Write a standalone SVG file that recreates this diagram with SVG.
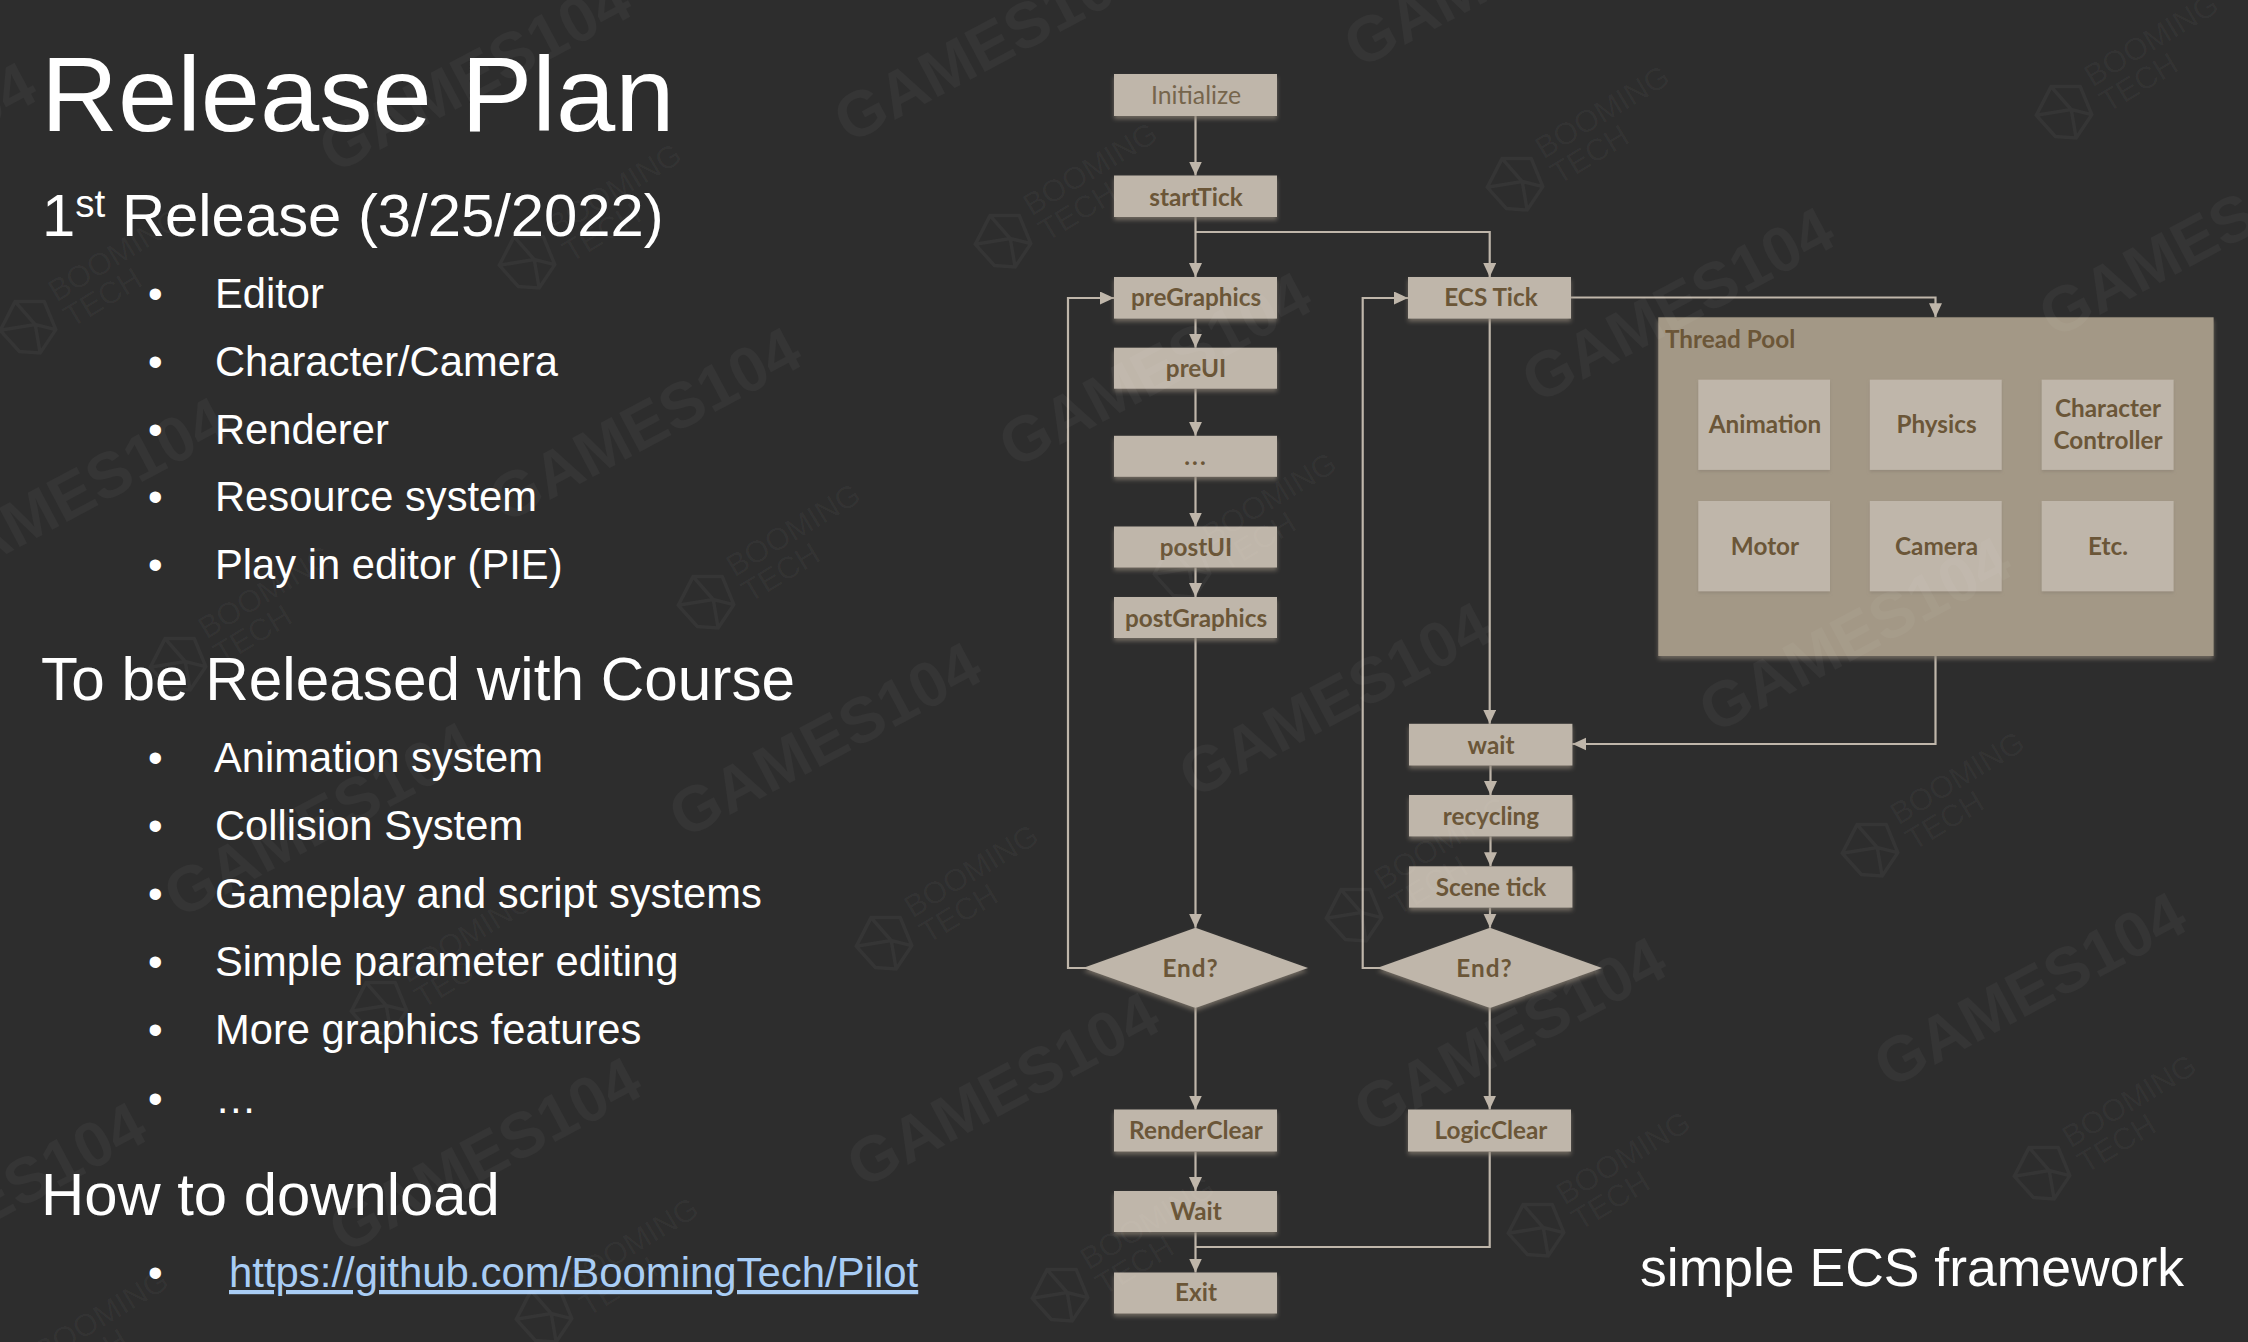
<svg xmlns="http://www.w3.org/2000/svg" width="2248" height="1342" viewBox="0 0 2248 1342">
<style>
text{font-kerning:none}
.title{font:106.5px "Liberation Sans",Arial,sans-serif;fill:#fff}
.h{font:59.8px "Liberation Sans",Arial,sans-serif;fill:#fff}
.b{font:41.7px "Liberation Sans",Arial,sans-serif;fill:#fff}
.link{font:41.9px "Liberation Sans",Arial,sans-serif;fill:#a9cdf5;text-decoration:underline}
.cap{font:53.5px "Liberation Sans",Arial,sans-serif;fill:#fff}
.n{fill:#bfb6aa;filter:url(#sh)}
.pool{fill:#a39886;filter:url(#sh)}
.in{fill:#bfb6aa;filter:url(#sh2)}
.t{font:bold 24.3px Lato,"Noto Sans",sans-serif;fill:#6b5638;text-anchor:middle}
.tl{font:24.8px Lato,"Noto Sans",sans-serif;fill:#76654c;text-anchor:middle}
.tp{font:bold 24.3px Lato,"Noto Sans",sans-serif;fill:#6b5638}
.c{fill:none;stroke:#bfb6aa;stroke-width:2.2}
.a{marker-end:url(#ah)}
.g1{font:bold 64px "Liberation Sans",Arial,sans-serif;fill:#fff;fill-opacity:.04;text-anchor:middle}
.g2{font:31px "Liberation Sans",Arial,sans-serif;fill:#fff;fill-opacity:.04}
.lg{fill:none;stroke:#fff;stroke-opacity:.04;stroke-width:3.5}
</style>
<defs>
<marker id="ah" markerUnits="userSpaceOnUse" markerWidth="15" markerHeight="14" refX="14" refY="6.5" orient="auto"><path d="M0 0L14 6.5L0 13z" fill="#bfb6aa"/></marker>
<filter id="sh" x="-10%" y="-20%" width="120%" height="150%"><feDropShadow dx="0" dy="3" stdDeviation="2" flood-color="#8a8073" flood-opacity=".7"/></filter>
<filter id="sh2" x="-10%" y="-10%" width="120%" height="120%"><feDropShadow dx="0" dy="2" stdDeviation="1.5" flood-color="#8a8073" flood-opacity=".6"/></filter>
<g id="lg"><path class="lg" d="M-72.5 -7L-45 -24L-20 -9L-24.5 21L-50 33L-67 21zM-72.5 -7L-39.5 6L-24.5 21M-45 -24L-39.5 6L-50 33"/></g>
</defs>
<rect width="2248" height="1342" fill="#2d2d2d"/>

<g id="text-left">
<text class="title" x="41" y="131">Release Plan</text>
<text class="h" x="42" y="236">1<tspan font-size="38.6" dy="-19">st</tspan><tspan dy="19"> Release (3/25/2022)</tspan></text>
<g>
<text class="b" x="148" y="308">•</text><text class="b" x="215" y="308">Editor</text>
<text class="b" x="148" y="376">•</text><text class="b" x="215" y="376">Character/Camera</text>
<text class="b" x="148" y="444">•</text><text class="b" x="215" y="444">Renderer</text>
<text class="b" x="148" y="511">•</text><text class="b" x="215" y="511">Resource system</text>
<text class="b" x="148" y="579">•</text><text class="b" x="215" y="579">Play in editor (PIE)</text>
</g>
<text class="h" x="41" y="699.5" style="font-size:60.3px">To be Released with Course</text>
<g>
<text class="b" x="148" y="772">•</text><text class="b" x="214" y="772">Animation system</text>
<text class="b" x="148" y="840">•</text><text class="b" x="215" y="840">Collision System</text>
<text class="b" x="148" y="908">•</text><text class="b" x="215" y="908">Gameplay and script systems</text>
<text class="b" x="148" y="976">•</text><text class="b" x="215" y="976">Simple parameter editing</text>
<text class="b" x="148" y="1044">•</text><text class="b" x="215" y="1044">More graphics features</text>
<text class="b" x="148" y="1113">•</text><text class="b" x="215" y="1113">…</text>
</g>
<text class="h" x="41" y="1215">How to download</text>
<text class="b" x="148" y="1287">•</text><text class="link" x="229" y="1287">https://github.com/BoomingTech/Pilot</text>
</g>

<g id="connectors">
<path class="c a" d="M1195.5 116V175.5"/>
<path class="c a" d="M1195.5 217V277"/>
<path class="c a" d="M1195.5 232H1489.7V277"/>
<path class="c a" d="M1195.5 318.6V347.7"/>
<path class="c a" d="M1195.5 388.7V435.8"/>
<path class="c a" d="M1195.5 476.7V526.5"/>
<path class="c a" d="M1195.5 567.4V597"/>
<path class="c a" d="M1195.5 638V927.7"/>
<path class="c a" d="M1086 968H1068V298H1114"/>
<path class="c a" d="M1195.5 1008V1109.5"/>
<path class="c a" d="M1195.5 1151.7V1191"/>
<path class="c a" d="M1195.5 1232.3V1272.5"/>
<path class="c" d="M1489.7 1151.7V1247H1195.5"/>
<path class="c a" d="M1489.7 318.6V723.8"/>
<path class="c a" d="M1571 297.5H1935.5V317.3"/>
<path class="c a" d="M1935.5 656V744H1572.4"/>
<path class="c a" d="M1490.5 765.5V795"/>
<path class="c a" d="M1490.5 836.4V866.3"/>
<path class="c a" d="M1490 907.6V927.7"/>
<path class="c a" d="M1380 968H1362.7V298H1408"/>
<path class="c a" d="M1489.7 1008V1109.5"/>
</g>

<g id="n-initialize"><rect class="n" x="1114" y="74" width="163" height="42"/><text class="tl" x="1196" y="103.5">Initialize</text></g>
<g id="n-starttick"><rect class="n" x="1114" y="175.5" width="163" height="41.5"/><text class="t" x="1196" y="205.5">startTick</text></g>
<g id="n-pregraphics"><rect class="n" x="1114" y="277" width="163" height="41.6"/><text class="t" x="1196" y="306">preGraphics</text></g>
<g id="n-preui"><rect class="n" x="1114" y="347.7" width="163" height="41"/><text class="t" x="1196" y="377">preUI</text></g>
<g id="n-dots"><rect class="n" x="1114" y="435.8" width="163" height="41"/><text class="t" x="1196" y="465" letter-spacing="2">...</text></g>
<g id="n-postui"><rect class="n" x="1114" y="526.5" width="163" height="41"/><text class="t" x="1196" y="555.5">postUI</text></g>
<g id="n-postgraphics"><rect class="n" x="1114" y="597" width="163" height="41"/><text class="t" x="1196" y="626.5">postGraphics</text></g>
<g id="n-end1"><polygon class="n" points="1083,968 1195.5,927.7 1308,968 1195.5,1008"/><text class="t" x="1190.6" y="977" letter-spacing="1">End?</text></g>
<g id="n-renderclear"><rect class="n" x="1114" y="1109.5" width="163" height="42"/><text class="t" x="1196" y="1139">RenderClear</text></g>
<g id="n-wait2"><rect class="n" x="1114" y="1191" width="163" height="41"/><text class="t" x="1196" y="1220">Wait</text></g>
<g id="n-exit"><rect class="n" x="1114" y="1272.5" width="163" height="41"/><text class="t" x="1196" y="1301">Exit</text></g>
<g id="n-ecstick"><rect class="n" x="1408" y="277" width="163" height="41.6"/><text class="t" x="1491" y="306">ECS Tick</text></g>
<g id="n-wait"><rect class="n" x="1409" y="723.8" width="163.4" height="41.7"/><text class="t" x="1491" y="753.5">wait</text></g>
<g id="n-recycling"><rect class="n" x="1409" y="795" width="163.4" height="41.4"/><text class="t" x="1491" y="824.5">recycling</text></g>
<g id="n-scenetick"><rect class="n" x="1409" y="866.3" width="163.4" height="41.3"/><text class="t" x="1491" y="895.5">Scene tick</text></g>
<g id="n-end2"><polygon class="n" points="1377,968 1490,927.7 1602,968 1490,1008"/><text class="t" x="1484.5" y="977" letter-spacing="1">End?</text></g>
<g id="n-logicclear"><rect class="n" x="1408" y="1109.5" width="163" height="42"/><text class="t" x="1491" y="1139">LogicClear</text></g>

<g id="n-threadpool">
<rect class="pool" x="1658.3" y="317.3" width="555.3" height="338.7"/>
<text class="tp" x="1665" y="347.5">Thread Pool</text>
</g>
<g id="n-animation"><rect class="in" x="1698.3" y="379.7" width="131.7" height="90.2"/><text class="t" x="1765" y="432.5">Animation</text></g>
<g id="n-physics"><rect class="in" x="1869.8" y="379.7" width="131.9" height="90.2"/><text class="t" x="1936.5" y="432.5">Physics</text></g>
<g id="n-character"><rect class="in" x="2041.7" y="379.7" width="131.9" height="90.2"/><text class="t" x="2108" y="416.5">Character</text><text class="t" x="2108" y="448.5">Controller</text></g>
<g id="n-motor"><rect class="in" x="1698.3" y="501" width="131.7" height="90.3"/><text class="t" x="1765" y="555">Motor</text></g>
<g id="n-camera"><rect class="in" x="1869.8" y="501" width="131.9" height="90.3"/><text class="t" x="1936.5" y="555">Camera</text></g>
<g id="n-etc"><rect class="in" x="2041.7" y="501" width="131.9" height="90.3"/><text class="t" x="2108" y="555">Etc.</text></g>

<text class="cap" x="1640" y="1286">simple ECS framework</text>

<g id="watermarks">
<text class="g1" transform="translate(485 94) rotate(-28)">GAMES104</text>
<text class="g1" transform="translate(1000 64) rotate(-28)">GAMES104</text>
<text class="g1" transform="translate(1510 -11) rotate(-28)">GAMES104</text>
<text class="g1" transform="translate(1688 324) rotate(-28)">GAMES104</text>
<text class="g1" transform="translate(2205 259) rotate(-28)">GAMES104</text>
<text class="g1" transform="translate(655 444) rotate(-28)">GAMES104</text>
<text class="g1" transform="translate(82 514) rotate(-28)">GAMES104</text>
<text class="g1" transform="translate(1165 389) rotate(-28)">GAMES104</text>
<text class="g1" transform="translate(1345 719) rotate(-28)">GAMES104</text>
<text class="g1" transform="translate(835 759) rotate(-28)">GAMES104</text>
<text class="g1" transform="translate(1865 654) rotate(-28)">GAMES104</text>
<text class="g1" transform="translate(330 839) rotate(-28)">GAMES104</text>
<text class="g1" transform="translate(2040 1009) rotate(-28)">GAMES104</text>
<text class="g1" transform="translate(1013 1109) rotate(-28)">GAMES104</text>
<text class="g1" transform="translate(495 1174) rotate(-28)">GAMES104</text>
<text class="g1" transform="translate(1520 1054) rotate(-28)">GAMES104</text>
<text class="g1" transform="translate(0 1219) rotate(-28)">GAMES104</text>
<text class="g1" transform="translate(-110 179) rotate(-28)">GAMES104</text>
<g transform="translate(1041 213) rotate(-31)"><use href="#lg"/><text class="g2"><tspan x="-10" y="-2">BOOMING</tspan><tspan x="-10" y="28">TECH</tspan></text></g>
<g transform="translate(1553 156) rotate(-31)"><use href="#lg"/><text class="g2"><tspan x="-10" y="-2">BOOMING</tspan><tspan x="-10" y="28">TECH</tspan></text></g>
<g transform="translate(2102 84) rotate(-31)"><use href="#lg"/><text class="g2"><tspan x="-10" y="-2">BOOMING</tspan><tspan x="-10" y="28">TECH</tspan></text></g>
<g transform="translate(565 234) rotate(-31)"><use href="#lg"/><text class="g2"><tspan x="-10" y="-2">BOOMING</tspan><tspan x="-10" y="28">TECH</tspan></text></g>
<g transform="translate(66 299) rotate(-31)"><use href="#lg"/><text class="g2"><tspan x="-10" y="-2">BOOMING</tspan><tspan x="-10" y="28">TECH</tspan></text></g>
<g transform="translate(744 574) rotate(-31)"><use href="#lg"/><text class="g2"><tspan x="-10" y="-2">BOOMING</tspan><tspan x="-10" y="28">TECH</tspan></text></g>
<g transform="translate(1220 543) rotate(-31)"><use href="#lg"/><text class="g2"><tspan x="-10" y="-2">BOOMING</tspan><tspan x="-10" y="28">TECH</tspan></text></g>
<g transform="translate(216 636) rotate(-31)"><use href="#lg"/><text class="g2"><tspan x="-10" y="-2">BOOMING</tspan><tspan x="-10" y="28">TECH</tspan></text></g>
<g transform="translate(1908 822) rotate(-31)"><use href="#lg"/><text class="g2"><tspan x="-10" y="-2">BOOMING</tspan><tspan x="-10" y="28">TECH</tspan></text></g>
<g transform="translate(922 915) rotate(-31)"><use href="#lg"/><text class="g2"><tspan x="-10" y="-2">BOOMING</tspan><tspan x="-10" y="28">TECH</tspan></text></g>
<g transform="translate(1392 887) rotate(-31)"><use href="#lg"/><text class="g2"><tspan x="-10" y="-2">BOOMING</tspan><tspan x="-10" y="28">TECH</tspan></text></g>
<g transform="translate(417 980) rotate(-31)"><use href="#lg"/><text class="g2"><tspan x="-10" y="-2">BOOMING</tspan><tspan x="-10" y="28">TECH</tspan></text></g>
<g transform="translate(2080 1145) rotate(-31)"><use href="#lg"/><text class="g2"><tspan x="-10" y="-2">BOOMING</tspan><tspan x="-10" y="28">TECH</tspan></text></g>
<g transform="translate(1574 1202) rotate(-31)"><use href="#lg"/><text class="g2"><tspan x="-10" y="-2">BOOMING</tspan><tspan x="-10" y="28">TECH</tspan></text></g>
<g transform="translate(1098 1267) rotate(-31)"><use href="#lg"/><text class="g2"><tspan x="-10" y="-2">BOOMING</tspan><tspan x="-10" y="28">TECH</tspan></text></g>
<g transform="translate(582 1288) rotate(-31)"><use href="#lg"/><text class="g2"><tspan x="-10" y="-2">BOOMING</tspan><tspan x="-10" y="28">TECH</tspan></text></g>
<g transform="translate(52 1360) rotate(-31)"><use href="#lg"/><text class="g2"><tspan x="-10" y="-2">BOOMING</tspan><tspan x="-10" y="28">TECH</tspan></text></g>
</g>
</svg>
